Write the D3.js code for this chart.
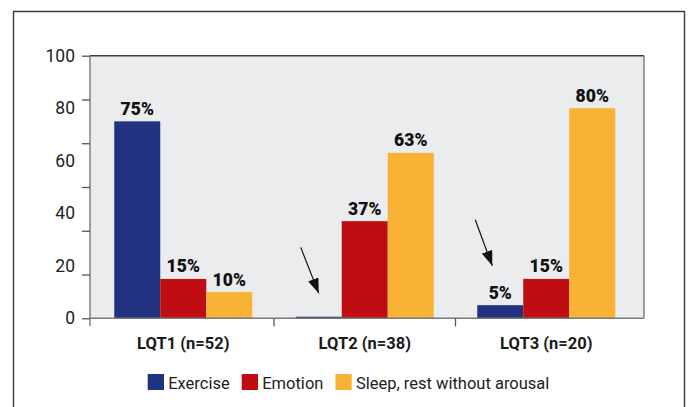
<!DOCTYPE html>
<html>
<head>
<meta charset="utf-8">
<script src="https://cdn.jsdelivr.net/npm/d3@7"></script>
<style>
  html, body { margin: 0; padding: 0; background: #fff; }
  svg { display: block; font-family: Roboto, "Noto Sans", sans-serif; }
</style>
</head>
<body>
<svg id="chart" width="690" height="407"></svg>
<script>
// ---- Data ----
const categories = ["LQT1 (n=52)", "LQT2 (n=38)", "LQT3 (n=20)"];
const seriesNames = ["Exercise", "Emotion", "Sleep, rest without arousal"];
const exerciseValues = [75, 0.6, 5];
const emotionValues = [15, 37, 15];
const sleepValues = [10, 63, 80];
const valueLabels = [["75%", "15%", "10%"], ["", "37%", "63%"], ["5%", "15%", "80%"]];
const yTickLabels = [0, 20, 40, 60, 80, 100];
const seriesColors = ["#223281", "#be0e11", "#f8b234"];
// arrow annotations: category, tip value, start value
const arrows = [
  { cat: "LQT2 (n=38)", tip: 9.5, start: 27 },
  { cat: "LQT3 (n=20)", tip: 20, start: 37.5 }
];

const seriesValues = [exerciseValues, emotionValues, sleepValues];

const svg = d3.select("#chart");
const plot = { left: 90, right: 644, top: 55.7, bottom: 318.3 };

// outer frame
svg.append("path")
  .attr("d", "M13.5,420 V11.5 H684.5 V420")
  .attr("fill", "none").attr("stroke", "#3a3a3a").attr("stroke-width", 1.4);

// scales
const y = d3.scaleLinear().domain([0, 100]).range([plot.bottom, plot.top]);
const x0 = d3.scaleBand().domain(categories).range([92.5, 637]).padding(0);
const x1 = d3.scaleBand().domain(seriesNames).range([0, x0.bandwidth()])
  .paddingInner(0).paddingOuter(0.473);

// plot background
svg.append("rect")
  .attr("x", plot.left).attr("y", plot.top)
  .attr("width", plot.right - plot.left).attr("height", plot.bottom - plot.top)
  .attr("fill", "#ebeced");

// top & right border
svg.append("path")
  .attr("d", `M${plot.left},${plot.top} H${plot.right}`)
  .attr("stroke", "#3c3c3c").attr("stroke-width", 1.6).attr("fill", "none");
svg.append("path")
  .attr("d", `M${plot.right},${plot.top} V${plot.bottom}`)
  .attr("stroke", "#7a7a7a").attr("stroke-width", 1.4).attr("fill", "none");

// bars
const groups = svg.append("g").selectAll("g")
  .data(categories).join("g")
  .attr("transform", d => `translate(${x0(d)},0)`);

groups.selectAll("rect")
  .data((c, ci) => seriesNames.map((s, si) => ({ s, si, v: seriesValues[si][ci] })))
  .join("rect")
  .attr("x", d => x1(d.s))
  .attr("y", d => y(d.v))
  .attr("width", x1.bandwidth())
  .attr("height", d => y(0) - y(d.v))
  .attr("fill", d => seriesColors[d.si]);

groups.selectAll("text.val")
  .data((c, ci) => seriesNames.map((s, si) => ({ s, si, v: seriesValues[si][ci], t: valueLabels[ci][si] })))
  .join("text")
  .attr("class", "val")
  .attr("x", d => x1(d.s) + x1.bandwidth() / 2)
  .attr("y", d => y(d.v) - 6.5)
  .attr("text-anchor", "middle")
  .attr("font-size", 17.5).attr("font-weight", 900).attr("fill", "#111")
  .text(d => d.t);

// y axis: line, tick marks (6 divisions), labels
const yAxisG = svg.append("g").attr("transform", `translate(${plot.left},0)`);
yAxisG.call(d3.axisLeft(y)
  .tickValues(d3.range(7).map(i => i * 100 / 6))
  .tickSize(8).tickFormat(""));
yAxisG.select(".domain").attr("stroke", "#7a7a7a").attr("stroke-width", 1.4)
  .attr("d", `M0,${plot.top}V${plot.bottom + 8}`);
yAxisG.selectAll(".tick line").attr("stroke", "#555").attr("stroke-width", 1.3);

svg.append("g").selectAll("text")
  .data(yTickLabels).join("text")
  .attr("x", 75)
  .attr("y", d => y(d))
  .attr("dy", "0.34em")
  .attr("text-anchor", "end")
  .attr("font-size", 17.5).attr("fill", "#222")
  .text(d => d);

// x axis
const xAxisG = svg.append("g").attr("transform", `translate(0,${plot.bottom})`);
xAxisG.append("path")
  .attr("d", `M${plot.left},0H${plot.right}`)
  .attr("stroke", "#7a7a7a").attr("stroke-width", 1.6);
xAxisG.selectAll("line.tk")
  .data(categories.slice(1)).join("line")
  .attr("class", "tk")
  .attr("x1", d => x0(d)).attr("x2", d => x0(d))
  .attr("y1", 0).attr("y2", 8)
  .attr("stroke", "#555").attr("stroke-width", 1.3);
xAxisG.selectAll("text")
  .data(categories).join("text")
  .attr("x", d => x0(d) + x0.bandwidth() / 2)
  .attr("y", 31)
  .attr("text-anchor", "middle")
  .attr("font-size", 16.5).attr("font-weight", "bold").attr("fill", "#1a1a1a")
  .text(d => d);

// arrows
const defs = svg.append("defs");
defs.append("marker")
  .attr("id", "ah").attr("viewBox", "0 0 15 11")
  .attr("refX", 15).attr("refY", 5.5)
  .attr("markerWidth", 15).attr("markerHeight", 11)
  .attr("markerUnits", "userSpaceOnUse")
  .attr("orient", "auto")
  .append("path").attr("d", "M0,0 L15,5.5 L0,11 z").attr("fill", "#111");

svg.append("g").selectAll("line")
  .data(arrows).join("line")
  .attr("x1", (d, i) => x0(d.cat) + x1("Exercise") + x1.bandwidth() / 2 + (i === 0 ? -18 : -25))
  .attr("y1", d => y(d.start))
  .attr("x2", (d, i) => x0(d.cat) + x1("Exercise") + x1.bandwidth() / 2 + (i === 0 ? 0 : -8))
  .attr("y2", d => y(d.tip))
  .attr("stroke", "#111").attr("stroke-width", 1.2)
  .attr("marker-end", "url(#ah)");

// legend
const legendItems = seriesNames.map((s, i) => ({ s, c: seriesColors[i] }));
const legend = svg.append("g").attr("transform", "translate(147.7,374)");
let lx = 0;
legendItems.forEach((d, i) => {
  const g = legend.append("g").attr("transform", `translate(${lx},0)`);
  g.append("rect").attr("width", 16.3).attr("height", 16).attr("fill", d.c);
  const t = g.append("text").attr("x", 20.5).attr("y", 14.5)
    .attr("font-size", 16.5).attr("fill", "#222").text(d.s);
  lx += 20.5 + t.node().getComputedTextLength() + 12;
});
</script>
</body>
</html>
